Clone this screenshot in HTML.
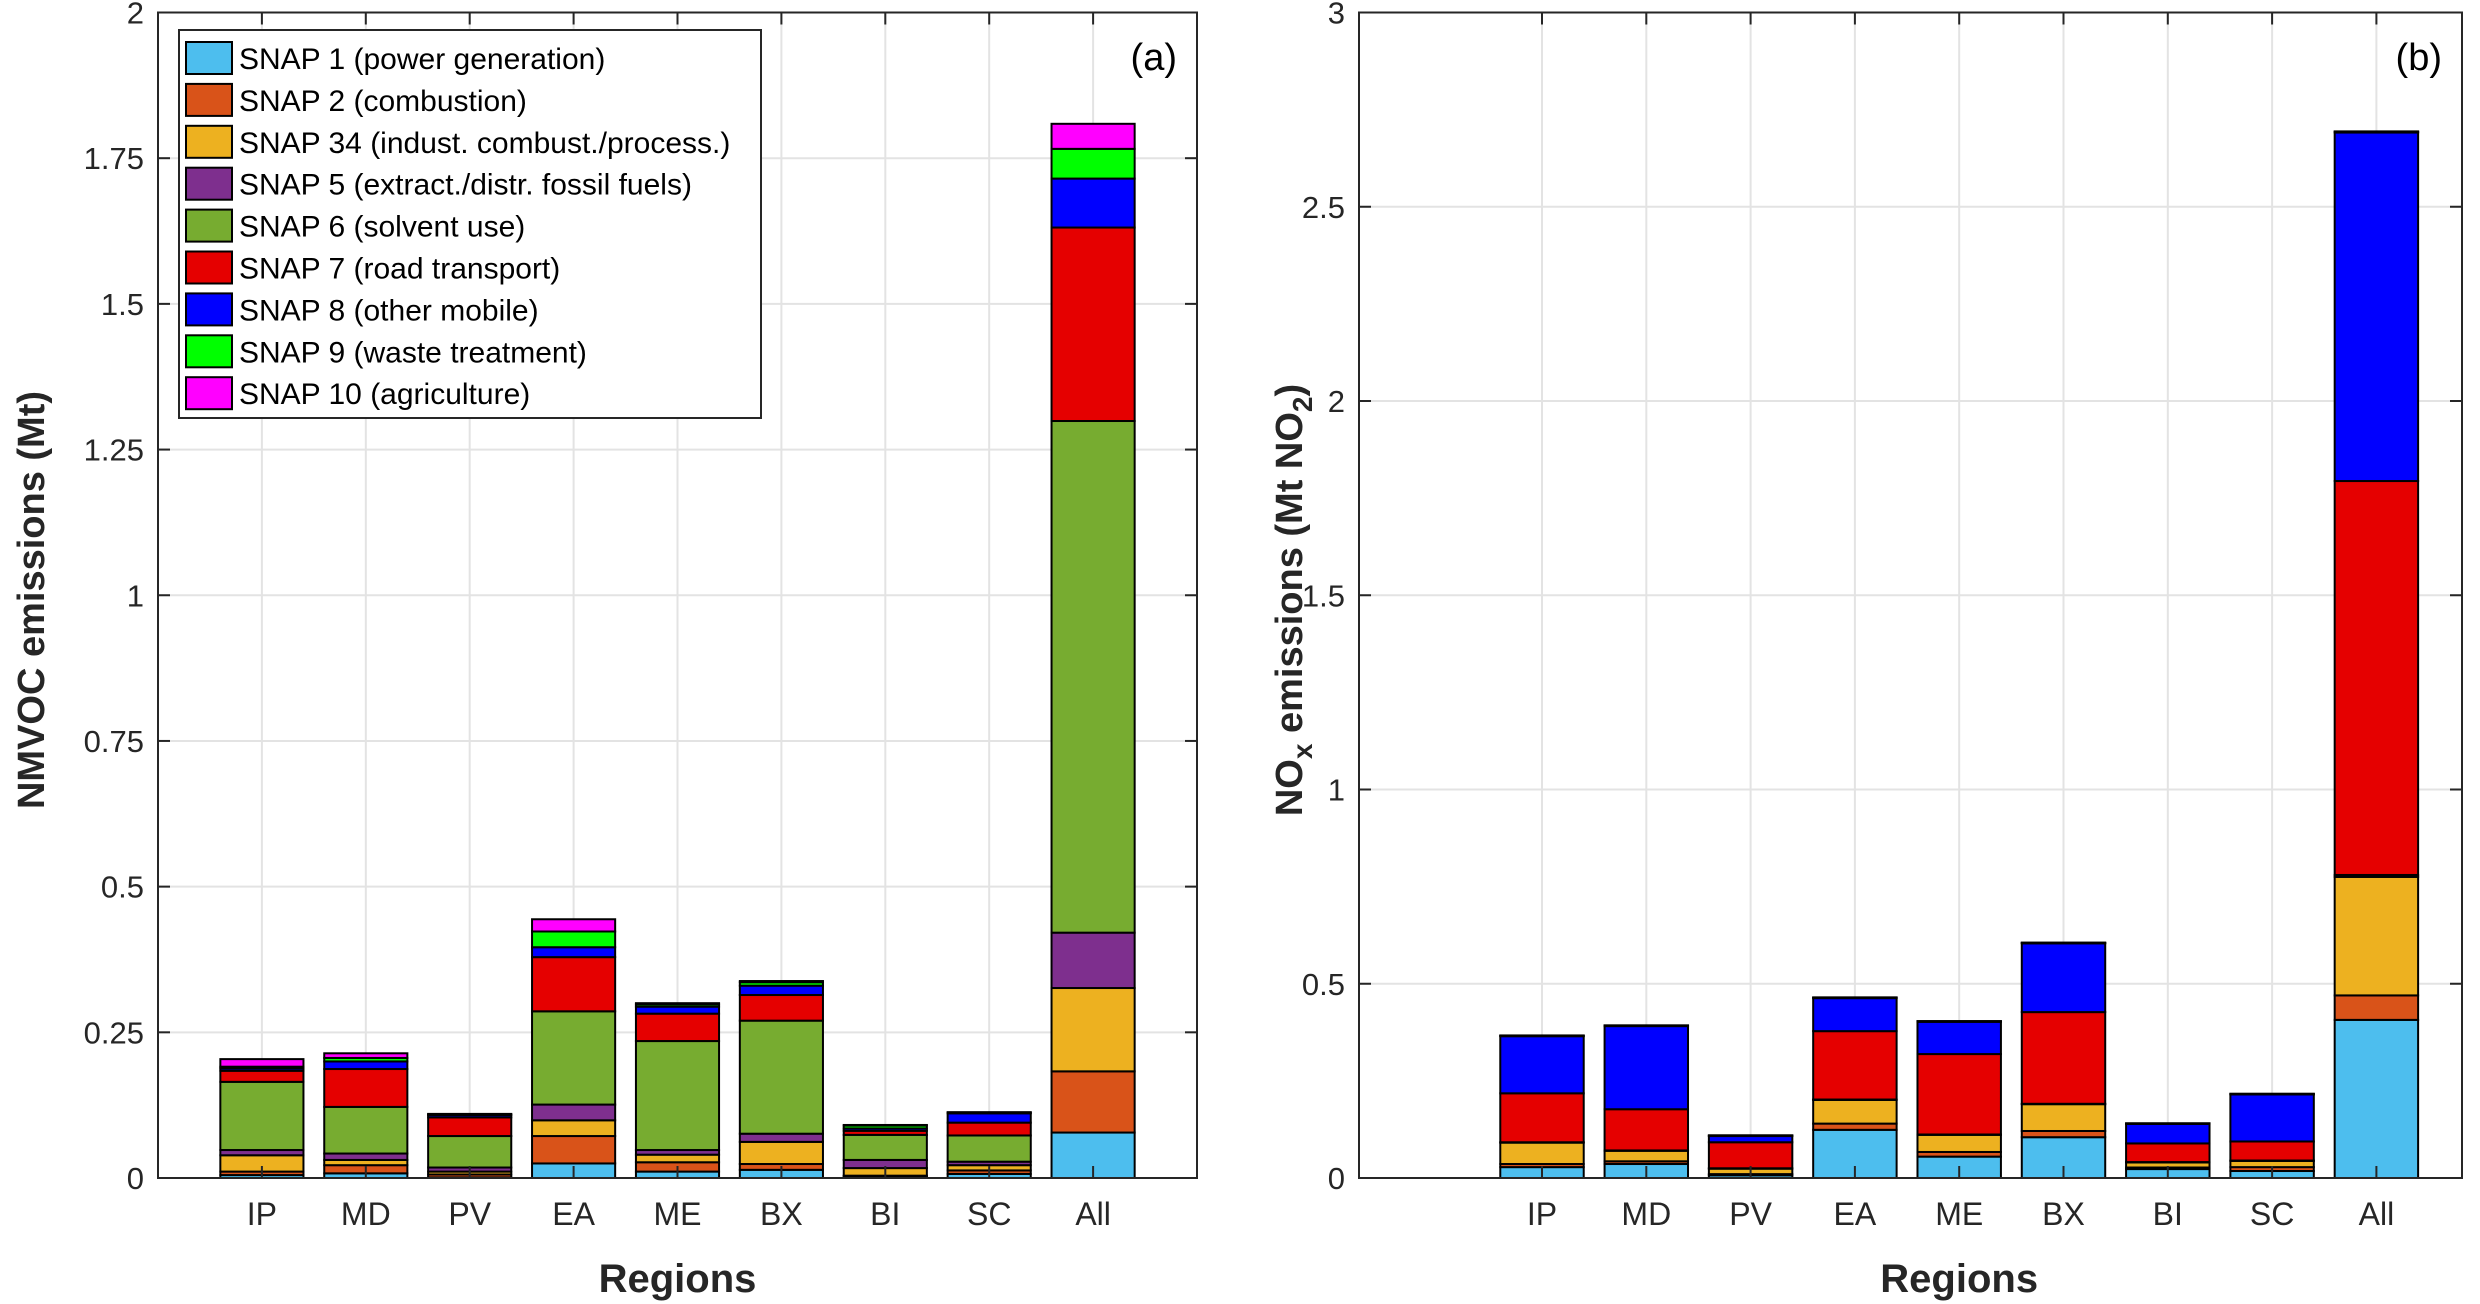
<!DOCTYPE html>
<html><head><meta charset="utf-8">
<style>
html,body{margin:0;padding:0;background:#fff;}
svg{display:block;font-family:"Liberation Sans",Arial,sans-serif;}
</style></head>
<body>
<svg id="chart" width="2480" height="1304" viewBox="0 0 2480 1304" xmlns="http://www.w3.org/2000/svg"></svg>
<script>
const categories = ["IP","MD","PV","EA","ME","BX","BI","SC","All"];
const seriesNames = ["SNAP 1 (power generation)","SNAP 2 (combustion)","SNAP 34 (indust. combust./process.)","SNAP 5 (extract./distr. fossil fuels)","SNAP 6 (solvent use)","SNAP 7 (road transport)","SNAP 8 (other mobile)","SNAP 9 (waste treatment)","SNAP 10 (agriculture)"];
const seriesColors = ["#4DBEEE","#D95319","#EDB120","#7E2F8E","#77AC30","#E50000","#0000FF","#00FF00","#FF00FF"];
// NMVOC (Mt), per SNAP, per region
const nmvoc1  = [0.005,0.008,0.001,0.025,0.011,0.014,0.003,0.007,0.078];
const nmvoc2  = [0.006,0.014,0.005,0.047,0.016,0.010,0.001,0.006,0.105];
const nmvoc34 = [0.028,0.009,0.005,0.027,0.013,0.038,0.013,0.009,0.143];
const nmvoc5  = [0.009,0.011,0.007,0.027,0.008,0.014,0.014,0.006,0.095];
const nmvoc6  = [0.117,0.080,0.054,0.160,0.187,0.194,0.043,0.045,0.878];
const nmvoc7  = [0.019,0.065,0.032,0.093,0.047,0.044,0.007,0.022,0.332];
const nmvoc8  = [0.004,0.013,0.004,0.017,0.012,0.016,0.004,0.016,0.084];
const nmvoc9  = [0.003,0.006,0.001,0.027,0.004,0.006,0.005,0.001,0.051];
const nmvoc10 = [0.013,0.008,0.001,0.021,0.002,0.002,0.001,0.001,0.043];
// NOx (Mt NO2)
const nox1  = [0.028,0.036,0.007,0.124,0.055,0.105,0.023,0.018,0.407];
const nox2  = [0.008,0.007,0.003,0.016,0.012,0.016,0.004,0.010,0.063];
const nox34 = [0.055,0.027,0.014,0.061,0.044,0.069,0.013,0.016,0.305];
const nox5  = [0.001,0.001,0.001,0.001,0.001,0.001,0.001,0.001,0.005];
const nox6  = [0,0,0,0,0,0,0,0,0];
const nox7  = [0.126,0.106,0.067,0.176,0.207,0.236,0.048,0.049,1.014];
const nox8  = [0.147,0.214,0.016,0.085,0.083,0.177,0.050,0.121,0.897];
const nox9  = [0.001,0.001,0.001,0.001,0.001,0.001,0.001,0.001,0.002];
const nox10 = [0.001,0.001,0.001,0.001,0.001,0.001,0.001,0.001,0.001];
const ticksA = ["0","0.25","0.5","0.75","1","1.25","1.5","1.75","2"];
const tickValsA = [0,0.25,0.5,0.75,1,1.25,1.5,1.75,2];
const ticksB = ["0","0.5","1","1.5","2","2.5","3"];
const tickValsB = [0,0.5,1,1.5,2,2.5,3];

const NS="http://www.w3.org/2000/svg";
const svg=document.getElementById('chart');
function mk(tag,attrs,parent){const e=document.createElementNS(NS,tag);for(const k in attrs)e.setAttribute(k,attrs[k]);(parent||svg).appendChild(e);return e;}

function drawPanel(px, series, ymax, tickVals, tickLabels, letter, pname){
  const L=px.l,R=px.r,T=12.5,B=1178;
  const g=mk('g',{});
  
  
  const xs=v=>L+(R-L)*(v-px.xmin)/(px.xmax-px.xmin);
  const ys=v=>B-(B-T)*v/ymax;
  for(let i=0;i<tickVals.length;i++){
    const y=ys(tickVals[i]);
    const gl=mk('line',{x1:L,x2:R,y1:y,y2:y,stroke:'#e3e3e3','stroke-width':2},g);
    
    
  }
  for(let i=0;i<categories.length;i++){
    const x=xs(i+1);
    const gl=mk('line',{x1:x,x2:x,y1:T,y2:B,stroke:'#e3e3e3','stroke-width':2},g);
    
    
  }
  const bw=(xs(2)-xs(1))*0.8;
  for(let i=0;i<categories.length;i++){
    let acc=0;
    for(let s=0;s<series.length;s++){
      const v=series[s][i];
      const y0=ys(acc),y1=ys(acc+v);
      acc+=v;
      const r=mk('rect',{x:xs(i+1)-bw/2,y:y1,width:bw,height:Math.max(0,y0-y1),fill:seriesColors[s],stroke:'#000','stroke-width':2},g);
      
      
    }
  }
  const box=mk('rect',{x:L,y:T,width:R-L,height:B-T,fill:'none',stroke:'#262626','stroke-width':2},g);
  
  
  for(let i=0;i<tickVals.length;i++){
    const y=ys(tickVals[i]);
    mk('line',{x1:L,x2:L+12,y1:y,y2:y,stroke:'#262626','stroke-width':2},g);
    mk('line',{x1:R,x2:R-12,y1:y,y2:y,stroke:'#262626','stroke-width':2},g);
    const t=mk('text',{x:L-14,y:y+11,'text-anchor':'end','font-size':31,fill:'#262626'},g);
    t.textContent=tickLabels[i];
    
    
  }
  for(let i=0;i<categories.length;i++){
    const x=xs(i+1);
    mk('line',{x1:x,x2:x,y1:B,y2:B-12,stroke:'#262626','stroke-width':2},g);
    mk('line',{x1:x,x2:x,y1:T,y2:T+12,stroke:'#262626','stroke-width':2},g);
    const t=mk('text',{x:x,y:1225,'text-anchor':'middle','font-size':32,fill:'#262626'},g);
    t.textContent=categories[i];
    
    
  }
  const xl=mk('text',{x:(xs(1)+xs(9))/2,y:1292,'text-anchor':'middle','font-size':40,'font-weight':'bold',fill:'#262626'},g);
  xl.textContent='Regions';
  
  
  const pl=mk('text',{x:R-20,y:70,'text-anchor':'end','font-size':38,fill:'#000'},g);
  pl.textContent=letter;
  
  
  return g;
}

drawPanel({l:158,r:1197,xmin:0,xmax:10},[nmvoc1,nmvoc2,nmvoc34,nmvoc5,nmvoc6,nmvoc7,nmvoc8,nmvoc9,nmvoc10],2,tickValsA,ticksA,'(a)','nmvoc');
drawPanel({l:1359,r:2462,xmin:1-(1542-1359)/104.3,xmax:1+(2462-1542)/104.3},[nox1,nox2,nox34,nox5,nox6,nox7,nox8,nox9,nox10],3,tickValsB,ticksB,'(b)','nox');

const yl1=mk('text',{transform:'translate(44,600) rotate(-90)','text-anchor':'middle','font-size':38,'font-weight':'bold',fill:'#262626'});
yl1.textContent='NMVOC emissions (Mt)';


const yl2=mk('text',{transform:'translate(1302,600) rotate(-90)','text-anchor':'middle','font-size':38,'font-weight':'bold',fill:'#262626'});
yl2.innerHTML='NO<tspan dy="10" font-size="28">x</tspan><tspan dy="-10"> emissions (Mt NO</tspan><tspan dy="10" font-size="28">2</tspan><tspan dy="-10">)</tspan>';



const lg=mk('g',{});


mk('rect',{x:179,y:30,width:582,height:388,fill:'#fff',stroke:'#262626','stroke-width':2},lg);
for(let s=0;s<seriesNames.length;s++){
  const cy=58+s*41.9;
  const e=mk('g',{},lg);
  
  
  mk('rect',{x:186,y:cy-16,width:46,height:32,fill:seriesColors[s],stroke:'#000','stroke-width':2},e);
  const t=mk('text',{x:239,y:cy+11,'font-size':30,fill:'#000'},e);
  t.textContent=seriesNames[s];
}
</script>
</body></html>
